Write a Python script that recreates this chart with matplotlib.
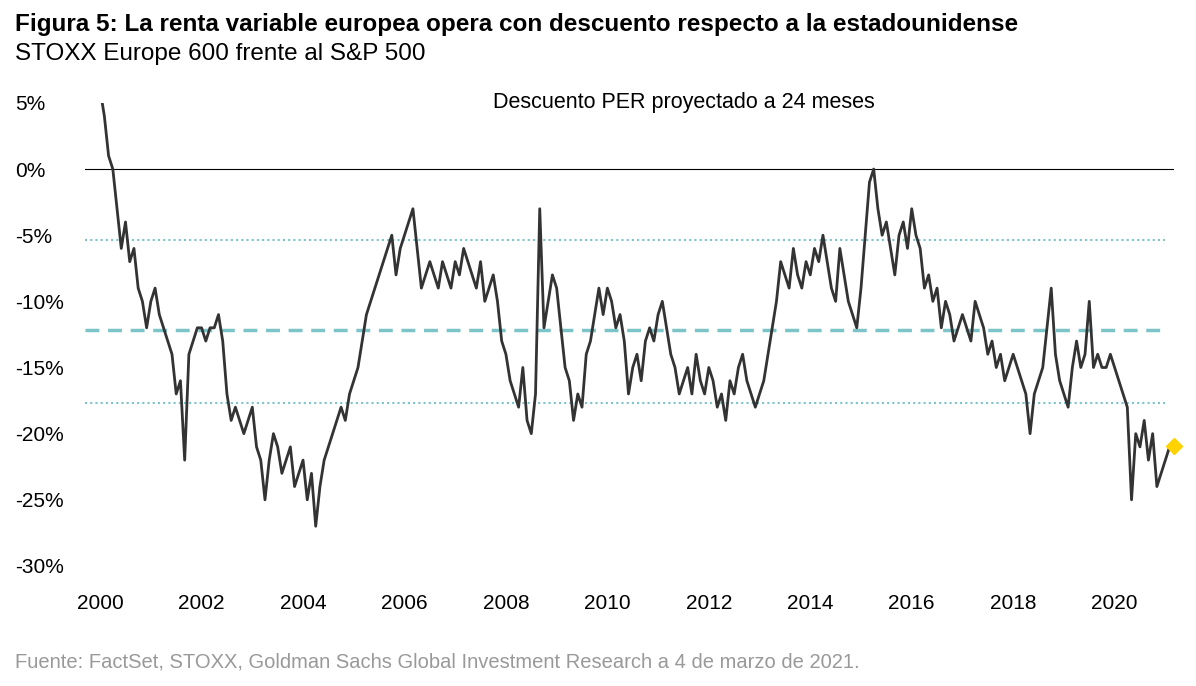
import matplotlib
matplotlib.use("Agg")
import matplotlib.pyplot as plt
import numpy as np

plt.rcParams["font.family"] = ["Liberation Sans", "DejaVu Sans"]

# monthly readings of the 24m forward P/E discount, Jan 2000 - Mar 2021 (%)
discount = [
    6, 4, 1, 0, -3, -6, -4, -7, -6, -9, -10, -12,
    -10, -9, -11, -12, -13, -14, -17, -16, -22, -14, -13, -12,
    -12, -13, -12, -12, -11, -13, -17, -19, -18, -19, -20, -19,
    -18, -21, -22, -25, -22, -20, -21, -23, -22, -21, -24, -23,
    -22, -25, -23, -27, -24, -22, -21, -20, -19, -18, -19, -17,
    -16, -15, -13, -11, -10, -9, -8, -7, -6, -5, -8, -6,
    -5, -4, -3, -6, -9, -8, -7, -8, -9, -7, -8, -9,
    -7, -8, -6, -7, -8, -9, -7, -10, -9, -8, -10, -13,
    -14, -16, -17, -18, -15, -19, -20, -17, -3, -12, -10, -8,
    -9, -12, -15, -16, -19, -17, -18, -14, -13, -11, -9, -11,
    -9, -10, -12, -11, -13, -17, -15, -14, -16, -13, -12, -13,
    -11, -10, -12, -14, -15, -17, -16, -15, -17, -14, -16, -17,
    -15, -16, -18, -17, -19, -16, -17, -15, -14, -16, -17, -18,
    -17, -16, -14, -12, -10, -7, -8, -9, -6, -8, -9, -7,
    -8, -6, -7, -5, -7, -9, -10, -6, -8, -10, -11, -12,
    -9, -5, -1, 0, -3, -5, -4, -6, -8, -5, -4, -6,
    -3, -5, -6, -9, -8, -10, -9, -12, -10, -11, -13, -12,
    -11, -12, -13, -10, -11, -12, -14, -13, -15, -14, -16, -15,
    -14, -15, -16, -17, -20, -17, -16, -15, -12, -9, -14, -16,
    -17, -18, -15, -13, -15, -14, -10, -15, -14, -15, -15, -14,
    -15, -16, -17, -18, -25, -20, -21, -19, -22, -20, -24, -23,
    -22, -21, -20.9,
]
years = 2000 + np.arange(len(discount)) / 12
mean_level = -12.2
band = [-5.4, -17.7]
latest = -20.9

fig = plt.figure(figsize=(11.96, 6.86), dpi=100)
ax = fig.add_axes([0.071, 0.175, 0.911, 0.675])
ax.set_xlim(1999.7, 2021.18)
ax.set_ylim(-30, 5)

ax.axhline(0, color="black", lw=0.8)
ax.hlines(mean_level, 1999.7, 2020.985, colors="#7cc4c8", lw=2.5, linestyles=(0, (4, 2.5)))
for b in band:
    ax.hlines(b, 1999.7, 2020.985, colors="#7cc4c8", lw=1.5, linestyles=(0, (1, 1.5)))
ax.plot(years, discount, color="#333333", lw=2)
ax.plot(years[-1], latest, marker="D", color="#ffd200", ms=8, clip_on=False, zorder=5)

for s in ax.spines.values():
    s.set_visible(False)
ax.set_xticks(range(2000, 2021, 2))
ax.set_yticks(range(-30, 6, 5))
ax.set_yticklabels([f"{v}%" for v in range(-30, 6, 5)])
ax.tick_params(length=0, labelsize=15)
ax.tick_params(axis="x", pad=20)
ax.tick_params(axis="y", pad=50)
for t in ax.get_yticklabels():
    t.set_horizontalalignment("left")

ax.text(0.55, 1.0, "Descuento PER proyectado a 24 meses", transform=ax.transAxes,
        ha="center", va="center", fontsize=15.5)
fig.text(0.0125, 0.965, "Figura 5: La renta variable europea opera con descuento respecto a la estadounidense",
         fontsize=17.5, fontweight="bold", va="center")
fig.text(0.0125, 0.922, "STOXX Europe 600 frente al S&P 500", fontsize=17.5, va="center")
fig.text(0.0125, 0.035, "Fuente: FactSet, STOXX, Goldman Sachs Global Investment Research a 4 de marzo de 2021.",
         fontsize=14.5, color="#999999", va="center")

fig.savefig("out.png", dpi=100)
